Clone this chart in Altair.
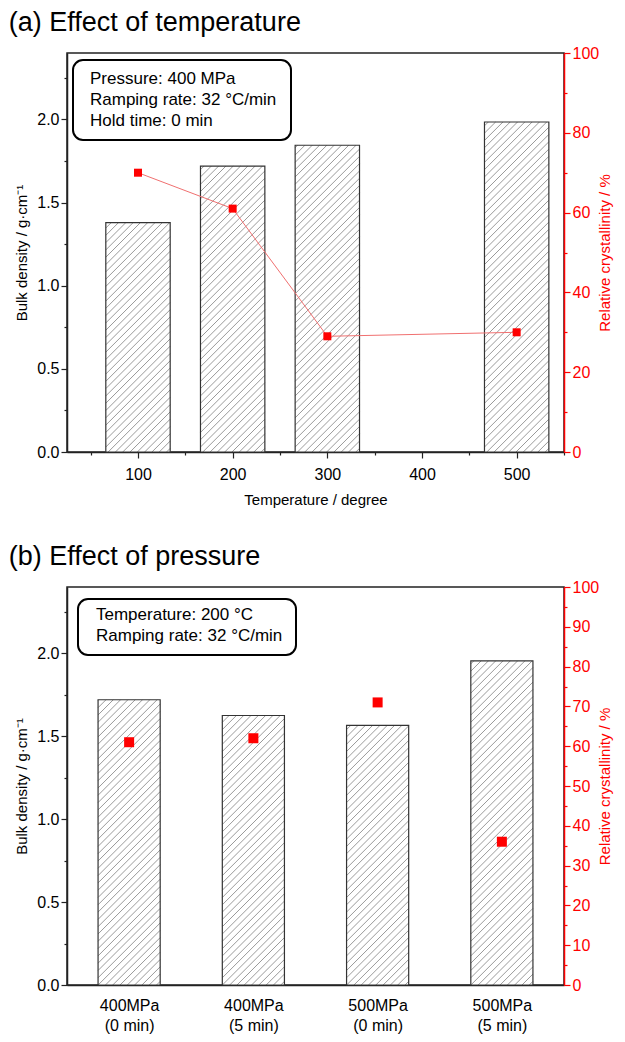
import altair as alt
import pandas as pd

# ---------------- data ----------------
temps = [100, 200, 300, 500]
density_a = [1.38, 1.72, 1.845, 1.985]
cryst_a = [70, 61, 29, 30]

labels_b = ["400MPa|(0 min)", "400MPa|(5 min)", "500MPa|(0 min)", "500MPa|(5 min)"]
pos_b = [1, 2, 3, 4]
density_b = [1.72, 1.625, 1.565, 1.955]
cryst_b = [61, 62, 71, 36]

note_a = ["Pressure: 400 MPa", "Ramping rate: 32 \u00b0C/min", "Hold time: 0 min"]
note_b = ["Temperature: 200 \u00b0C", "Ramping rate: 32 \u00b0C/min"]

FONT = "Liberation Sans"
W = 497
H_A = 399
H_B = 398
X_DOM_A = [25, 550]
X_DOM_B = [0.5, 4.5]
Y_DOM = [0, 2.4]
HALF_A = 34
HALF_B = 0.25


def hatch(df, px_x, px_y, s=7.3):
    rows = []
    for _, r in df.iterrows():
        w = (r.x2 - r.x) * px_x
        h = r.d * px_y
        c = -w + s * 0.5
        while c < h:
            u0 = max(0.0, -c)
            u1 = min(w, h - c)
            if u1 > u0:
                rows.append({
                    "hx": r.x + u0 / px_x, "hy": (u0 + c) / px_y,
                    "hx2": r.x + u1 / px_x, "hy2": (u1 + c) / px_y,
                })
            c += s
    return pd.DataFrame(rows)


yaxis_l = alt.Axis(
    title="Bulk density / g\u00b7cm\u207b\u00b9",
    values=[0, 0.25, 0.5, 0.75, 1.0, 1.25, 1.5, 1.75, 2.0, 2.25],
    labelExpr="datum.value % 0.5 == 0 ? format(datum.value, '.1f') : ''",
    tickSize={"condition": {"test": "datum.value % 0.5 == 0", "value": 6}, "value": 3},
    grid=False, domainColor="#222", tickColor="#222", labelColor="black",
    titleColor="black", titlePadding=7, domainWidth=1.5, tickWidth=1.2,
)


def panel(xv, dens, cryst, half, xdom, height, xaxis, yaxis_r, note, note_box, title, line, sq):
    df = pd.DataFrame({"xc": xv, "d": dens, "c": cryst})
    df["x"] = df.xc - half
    df["x2"] = df.xc + half
    hd = hatch(df, W / (xdom[1] - xdom[0]), height / (Y_DOM[1] - Y_DOM[0]))

    xs = alt.Scale(domain=xdom, nice=False, zero=False)
    ys = alt.Scale(domain=Y_DOM, nice=False)

    base = alt.Chart(df)
    bars = base.mark_rect(fill="white").encode(
        x=alt.X("x:Q", scale=xs, axis=xaxis),
        x2="x2",
        y=alt.Y("d:Q", scale=ys, axis=yaxis_l),
        y2=alt.datum(0),
    )
    hl = alt.Chart(hd).mark_rule(color="#808080", strokeWidth=0.8).encode(
        x=alt.X("hx:Q", scale=xs, axis=xaxis),
        x2="hx2",
        y=alt.Y("hy:Q", scale=ys, axis=yaxis_l),
        y2="hy2",
    )
    outl = base.mark_rect(fill=None, stroke="#333", strokeWidth=1.2).encode(
        x=alt.X("x:Q", scale=xs, axis=xaxis),
        x2="x2",
        y=alt.Y("d:Q", scale=ys, axis=yaxis_l),
        y2=alt.datum(0),
    )
    left = alt.layer(bars, hl, outl)

    rs = alt.Scale(domain=[0, 100], nice=False)
    pts = base.mark_point(shape="square", filled=True, size=sq, color="#ff0000", opacity=1).encode(
        x=alt.X("xc:Q", scale=xs, axis=xaxis),
        y=alt.Y("c:Q", scale=rs, axis=yaxis_r),
    )
    rl = [pts]
    if line:
        ln = base.mark_line(color="#f07070", strokeWidth=1).encode(
            x=alt.X("xc:Q", scale=xs, axis=xaxis),
            y=alt.Y("c:Q", scale=rs, axis=yaxis_r),
        )
        rl = [ln, pts]
    right = alt.layer(*rl)

    bx0, bx1, by0, by1, tx, ty = note_box
    box = alt.Chart(pd.DataFrame({"k": [0]})).mark_rect(
        cornerRadius=10, fill="white", stroke="black", strokeWidth=2
    ).encode(x=alt.value(bx0), x2=alt.value(bx1), y=alt.value(by0), y2=alt.value(by1))
    txt = alt.Chart(pd.DataFrame({"k": [0]})).mark_text(
        align="left", baseline="top", fontSize=17, font=FONT, lineHeight=21, color="black"
    ).encode(x=alt.value(tx), y=alt.value(ty), text=alt.value(note))

    return alt.layer(left, right, box, txt).resolve_scale(y="independent").properties(
        width=W, height=height,
        title=alt.TitleParams(title, anchor="start", fontSize=27, fontWeight="normal",
                              font=FONT, color="black", offset=8, dx=-6),
    )


xaxis_a = alt.Axis(
    title="Temperature / degree",
    values=[50, 100, 150, 200, 250, 300, 350, 400, 450, 500, 550],
    labelExpr="datum.value % 100 == 0 && datum.value < 550 ? format(datum.value, 'd') : ''",
    tickSize={"condition": {"test": "datum.value % 100 == 0", "value": 6}, "value": 3},
    grid=False, domainColor="#222", tickColor="#222", labelColor="black", titleColor="black",
    labelPadding=8, titlePadding=10, domainWidth=1.5, tickWidth=1.2,
)
yaxis_ra = alt.Axis(
    title="Relative crystallinity / %", orient="right", titleAngle=270,
    values=list(range(0, 101, 10)),
    labelExpr="datum.value % 20 == 0 ? format(datum.value, 'd') : ''",
    tickSize={"condition": {"test": "datum.value % 20 == 0", "value": 6}, "value": 3},
    grid=False, domainColor="red", tickColor="red", labelColor="red", titleColor="red",
    titlePadding=14, domainWidth=1.5, tickWidth=1.2,
)

lab_js = "[" + ",".join("'" + l + "'" for l in labels_b) + "]"
xaxis_b = alt.Axis(
    title=None, values=pos_b, ticks=False,
    labelExpr="split(" + lab_js + "[datum.value - 1], '|')",
    grid=False, domainColor="#222", labelColor="black", labelPadding=12,
    labelLineHeight=20, labelBaseline="top", domainWidth=1.5,
)
yaxis_rb = alt.Axis(
    title="Relative crystallinity / %", orient="right", titleAngle=270,
    values=list(range(0, 101, 5)),
    labelExpr="datum.value % 10 == 0 ? format(datum.value, 'd') : ''",
    tickSize={"condition": {"test": "datum.value % 10 == 0", "value": 6}, "value": 3},
    grid=False, domainColor="red", tickColor="red", labelColor="red", titleColor="red",
    titlePadding=14, domainWidth=1.5, tickWidth=1.2,
)

top = panel(temps, density_a, cryst_a, HALF_A, X_DOM_A, H_A, xaxis_a, yaxis_ra, note_a,
            (6, 224, 7, 87, 23, 18), "(a) Effect of temperature", True, 64)
bot = panel(pos_b, density_b, cryst_b, HALF_B, X_DOM_B, H_B, xaxis_b, yaxis_rb, note_b,
            (11, 229, 12, 68, 29, 20), "(b) Effect of pressure", False, 100)

chart = alt.vconcat(top, bot, spacing=34).properties(
    padding={"left": 0, "top": 0, "right": 0, "bottom": 0}
).configure_view(stroke="#222", strokeWidth=1.5).configure_axis(
    labelFont=FONT, titleFont=FONT, labelFontSize=16, titleFontSize=15, titleFontWeight="normal"
)

chart.save("out.html", embed_options={"renderer": "svg", "actions": False})
